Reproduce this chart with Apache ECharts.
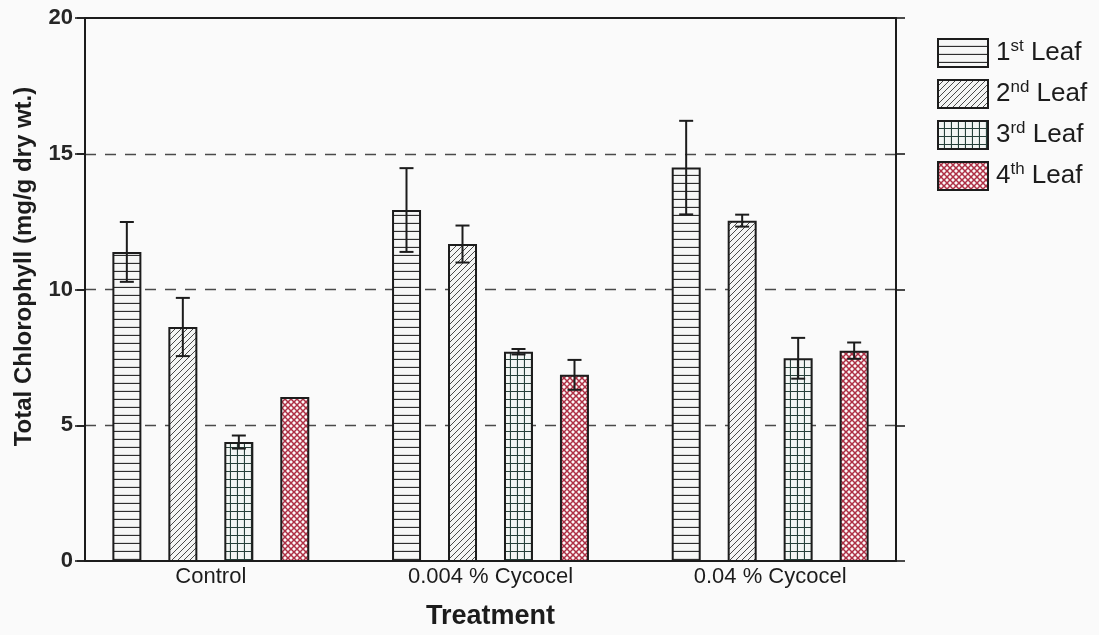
<!DOCTYPE html>
<html><head><meta charset="utf-8">
<script src="https://cdn.jsdelivr.net/npm/echarts/dist/echarts.min.js"></script>
<style>html,body{margin:0;padding:0;background:#fafafa}#c{width:1099px;height:635px}</style>
</head><body><div id="c"></div>
<script>
// ---- data ----
const categories = ['Control', '0.004 % Cycocel', '0.04 % Cycocel'];
const seriesNames = ['1st Leaf', '2nd Leaf', '3rd Leaf', '4th Leaf'];
const ordNum = ['1', '2', '3', '4'];
const ordSup = ['st', 'nd', 'rd', 'th'];
const leaf1 = [11.40, 12.94, 14.50];
const leaf2 = [8.64, 11.69, 12.55];
const leaf3 = [4.41, 7.73, 7.49];
const leaf4 = [6.07, 6.88, 7.77];
const err1 = [1.10, 1.54, 1.72];
const err2 = [1.07, 0.68, 0.22];
const err3 = [0.24, 0.10, 0.75];
const err4 = [0, 0.55, 0.30];
const yMin = 0, yMax = 20, yStep = 5;

const values = [leaf1, leaf2, leaf3, leaf4];
const errors = [err1, err2, err3, err4];

// ---- styles ----
const FONT = 'Liberation Sans, Arial, sans-serif';
const INK = '#1c1c1c';
const BAR_W = 29, BAR_GAP = 27;

function pattern(w, h, draw) {
  const c = document.createElement('canvas');
  c.width = w; c.height = h;
  const ctx = c.getContext('2d');
  draw(ctx, w, h);
  return { image: c, repeat: 'repeat' };
}
const patterns = [
  pattern(8, 8, (ctx, w, h) => {
    ctx.fillStyle = '#f6f7f6'; ctx.fillRect(0, 0, w, h);
    ctx.strokeStyle = '#2e2e2e'; ctx.lineWidth = 1.3;
    ctx.beginPath(); ctx.moveTo(0, 7.5); ctx.lineTo(w, 7.5); ctx.stroke();
  }),
  pattern(6, 6, (ctx, w, h) => {
    ctx.fillStyle = '#f4f5f4'; ctx.fillRect(0, 0, w, h);
    ctx.strokeStyle = '#4a4a4a'; ctx.lineWidth = 1;
    ctx.beginPath();
    ctx.moveTo(-1, 7); ctx.lineTo(7, -1);
    ctx.moveTo(-1, 1); ctx.lineTo(1, -1);
    ctx.moveTo(5, 7); ctx.lineTo(7, 5);
    ctx.stroke();
  }),
  pattern(7, 8, (ctx, w, h) => {
    ctx.fillStyle = '#f3f6f4'; ctx.fillRect(0, 0, w, h);
    ctx.strokeStyle = '#27413a'; ctx.lineWidth = 1.2;
    ctx.beginPath();
    ctx.moveTo(0, 7.5); ctx.lineTo(w, 7.5);
    ctx.moveTo(6.5, 0); ctx.lineTo(6.5, h);
    ctx.stroke();
  }),
  pattern(6, 6, (ctx, w, h) => {
    ctx.fillStyle = '#fbf7f7'; ctx.fillRect(0, 0, w, h);
    ctx.strokeStyle = '#ad2f44'; ctx.lineWidth = 1.5;
    ctx.beginPath();
    ctx.moveTo(-1, 7); ctx.lineTo(7, -1);
    ctx.moveTo(-1, -1); ctx.lineTo(7, 7);
    ctx.stroke();
  })
];

const barSeries = seriesNames.map((name, i) => ({
  name, type: 'bar', xAxisIndex: 0, yAxisIndex: 0,
  barWidth: BAR_W, barGap: (BAR_GAP / BAR_W * 100).toFixed(0) + '%',
  itemStyle: { color: patterns[i], borderColor: INK, borderWidth: 2 },
  data: values[i], z: 2
}));

const errData = [];
values.forEach((vals, s) => vals.forEach((v, c) => errData.push([c, v, errors[s][c], s])));

const errSeries = {
  type: 'custom', xAxisIndex: 0, yAxisIndex: 0, z: 3, silent: true,
  data: errData,
  renderItem: function (params, api) {
    const c = api.value(0), v = api.value(1), e = api.value(2), s = api.value(3);
    if (!e) return null;
    const n = seriesNames.length;
    const off = (s - (n - 1) / 2) * (BAR_W + BAR_GAP);
    const x = api.coord([c, v])[0] + off;
    const yt = api.coord([c, v + e])[1];
    const yb = api.coord([c, v - e])[1];
    const cap = 7;
    const st = { stroke: INK, lineWidth: 2 };
    return { type: 'group', children: [
      { type: 'line', shape: { x1: x, y1: yt, x2: x, y2: yb }, style: st },
      { type: 'line', shape: { x1: x - cap, y1: yt, x2: x + cap, y2: yt }, style: st },
      { type: 'line', shape: { x1: x - cap, y1: yb, x2: x + cap, y2: yb }, style: st }
    ]};
  }
};

const axisLine = { show: true, onZero: false, lineStyle: { color: INK, width: 2 } };

const option = {
  backgroundColor: '#fafafa',
  animation: false,
  textStyle: { fontFamily: FONT },
  grid: [
    { left: 71, width: 839, top: 18, height: 544 },
    { left: 85, width: 811, top: 18, height: 544 }
  ],
  legend: {
    orient: 'vertical', left: 932, top: 33,
    itemWidth: 50, itemHeight: 28, itemGap: 11, icon: 'rect',
    data: seriesNames,
    formatter: function (name) {
      const i = seriesNames.indexOf(name);
      return '{n|' + ordNum[i] + '}{s|' + ordSup[i] + '}{t| Leaf}';
    },
    textStyle: {
      padding: [0, 0, 0, 3],
      rich: {
        n: { fontSize: 26, color: INK, fontFamily: FONT, lineHeight: 30 },
        s: { fontSize: 17, color: INK, fontFamily: FONT, lineHeight: 16, verticalAlign: 'top' },
        t: { fontSize: 26, color: INK, fontFamily: FONT, lineHeight: 30 }
      }
    }
  },
  xAxis: [
    { gridIndex: 0, type: 'category', data: categories,
      axisLine: { show: false }, axisTick: { show: false },
      axisLabel: { fontSize: 22, color: INK, margin: 4, fontFamily: FONT } },
    { gridIndex: 1, type: 'value', min: 0, max: 1, position: 'bottom',
      axisLine: axisLine, axisTick: { show: false }, axisLabel: { show: false }, splitLine: { show: false },
      name: 'Treatment', nameLocation: 'middle', nameGap: 42,
      nameTextStyle: { fontSize: 27, fontWeight: 'bold', color: INK, fontFamily: FONT } },
    { gridIndex: 1, type: 'value', min: 0, max: 1, position: 'top',
      axisLine: axisLine, axisTick: { show: false }, axisLabel: { show: false }, splitLine: { show: false } }
  ],
  yAxis: [
    { gridIndex: 0, type: 'value', min: yMin, max: yMax, interval: yStep, show: false },
    { gridIndex: 1, type: 'value', min: yMin, max: yMax, interval: yStep, position: 'left',
      axisLine: axisLine,
      axisTick: { show: true, length: 10, lineStyle: { color: INK, width: 1.6 } },
      axisLabel: { fontSize: 22, fontWeight: 'bold', color: '#262626', margin: 12, fontFamily: FONT },
      splitLine: { show: true, showMinLine: false, showMaxLine: false,
        lineStyle: { color: '#4a4a4a', width: 1.4, type: [11, 9] } },
      name: 'Total Chlorophyll (mg/g dry wt.)', nameLocation: 'middle', nameGap: 49,
      nameTextStyle: { fontSize: 24, fontWeight: 'bold', color: INK, fontFamily: FONT, padding: [0, 0, 0, 46] } },
    { gridIndex: 1, type: 'value', min: yMin, max: yMax, interval: yStep, position: 'right',
      axisLine: axisLine,
      axisTick: { show: true, length: 9, lineStyle: { color: INK, width: 1.6 } },
      axisLabel: { show: false }, splitLine: { show: false } },
    { gridIndex: 1, type: 'value', min: yMin, max: yMax, interval: yStep, position: 'right',
      axisLine: { show: false },
      axisTick: { show: true, inside: true, length: 8, lineStyle: { color: INK, width: 1.6 } },
      axisLabel: { show: false }, splitLine: { show: false } }
  ],
  series: barSeries.concat([errSeries])
};

const chart = echarts.init(document.getElementById('c'));
chart.setOption(option);
</script>
</body></html>
